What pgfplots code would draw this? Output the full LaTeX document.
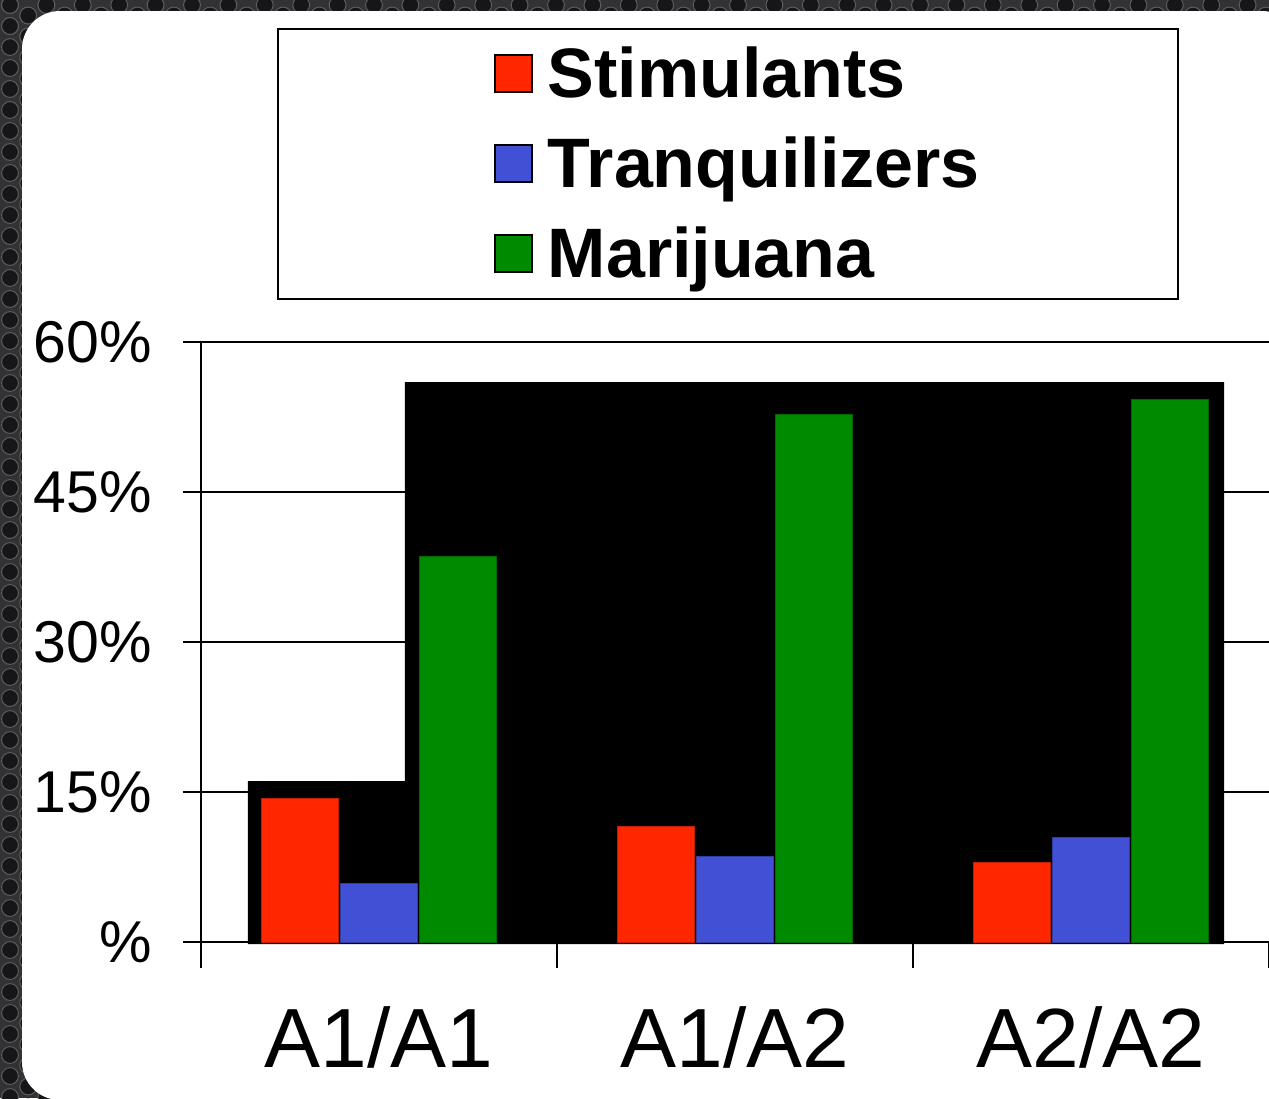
\documentclass[border=0pt]{standalone}
\usepackage{pgfplots}
\pgfplotsset{compat=1.18}
\usepackage{fontspec}
\setmainfont{Liberation Sans}
\definecolor{stim}{RGB}{255,38,0}
\definecolor{tranq}{RGB}{66,80,214}
\definecolor{mari}{RGB}{0,138,0}
\definecolor{bgd}{RGB}{50,50,52}
\definecolor{dotc}{RGB}{22,22,24}
\definecolor{dotr}{RGB}{92,92,96}
\begin{document}
\begin{tikzpicture}
\path[use as bounding box] (0,0) rectangle (634.5pt,-549pt);
\clip (0,0) rectangle (634.5pt,-549pt);
\fill[bgd] (0,0) rectangle (634.5pt,-549pt);
% perforated background, only the visible strips
\foreach \i in {0,...,70}{
  \foreach \j in {0,1}{
    \pgfmathsetmacro\xx{5+9.1*\i}
    \pgfmathsetmacro\yy{-2.5-10.5*\j-5.25*mod(\i,2)}
    \filldraw[fill=dotc, draw=dotr, line width=0.5pt] (\xx pt,\yy pt) circle (4.2pt);
  }
}
\foreach \i in {0,1,2}{
  \foreach \j in {0,...,53}{
    \pgfmathsetmacro\xx{5+9.1*\i}
    \pgfmathsetmacro\yy{-2.5-10.5*\j-5.25*mod(\i,2)}
    \filldraw[fill=dotc, draw=dotr, line width=0.5pt] (\xx pt,\yy pt) circle (4.2pt);
  }
}
\fill[white, rounded corners=19pt] (11pt,-5.5pt) rectangle (650pt,-550pt);
\begin{axis}[
  at={(100.5pt,-471pt)}, anchor=south west,
  width=534pt, height=300pt, scale only axis,
  xmin=-0.5, xmax=2.5, ymin=0, ymax=60,
  clip=false,
  axis lines=left,
  axis line style={-, black, line width=0.8pt},
  ytick={0,15,30,45,60},
  yticklabels={\%,15\%,30\%,45\%,60\%},
  xtick={0,1,2},
  xticklabels={A1/A1,A1/A2,A2/A2},
  minor xtick={-0.5,0.5,1.5,2.5},
  tick align=outside,
  major tick length=9pt,
  minor tick length=13pt,
  tick style={black, line width=0.8pt},
  major x tick style={draw=none},
  ymajorgrids,
  grid style={black, line width=0.8pt},
  yticklabel style={font=\fontsize{29.5}{34}\selectfont, xshift=-12pt},
  xticklabel style={font=\fontsize{42}{48}\selectfont, yshift=-20pt},
  /pgf/number format/assume math mode=true,
  legend style={at={(0.4934,1.5233)}, anchor=north, draw=black, line width=1pt,
    minimum width=450pt, minimum height=135pt,
    font=\bfseries\fontsize{35}{40}\selectfont,
    row sep=13pt, column sep=7.5pt, inner sep=0pt,
    nodes={inner sep=0pt, text height=27.5pt, text depth=4.5pt,
      minimum width=0pt, minimum height=0pt}},
  legend cell align=left,
  legend image code/.code={\path (-9pt,0pt); \draw[#1] (0pt,-8.85pt) rectangle (18.5pt,9.65pt);},
]
\addplot[fill=black, draw=none, no marks, forget plot]
  coordinates {(-0.368,-0.2) (-0.368,16.1) (0.073,16.1) (0.073,56) (2.374,56) (2.374,-0.2)};
\addplot[ybar, bar width=38.5pt, bar shift=-39.5pt, fill=stim, draw=stim!75!black, line width=0.4pt, forget plot]
  coordinates {(0,14.4) (1,11.6) (2,8.0)};
\addplot[ybar, bar width=38.5pt, bar shift=0pt, fill=tranq, draw=tranq!75!black, line width=0.4pt, forget plot]
  coordinates {(0,5.9) (1,8.6) (2,10.5)};
\addplot[ybar, bar width=38.5pt, bar shift=39.5pt, fill=mari, draw=mari!75!black, line width=0.4pt, forget plot]
  coordinates {(0,38.6) (1,52.8) (2,54.3)};
\addlegendimage{fill=stim, draw=black, line width=0.8pt}
\addlegendentry{Stimulants}
\addlegendimage{fill=tranq, draw=black, line width=0.8pt}
\addlegendentry{Tranquilizers}
\addlegendimage{fill=mari, draw=black, line width=0.8pt}
\addlegendentry{Marijuana}
\end{axis}
\end{tikzpicture}
\end{document}
